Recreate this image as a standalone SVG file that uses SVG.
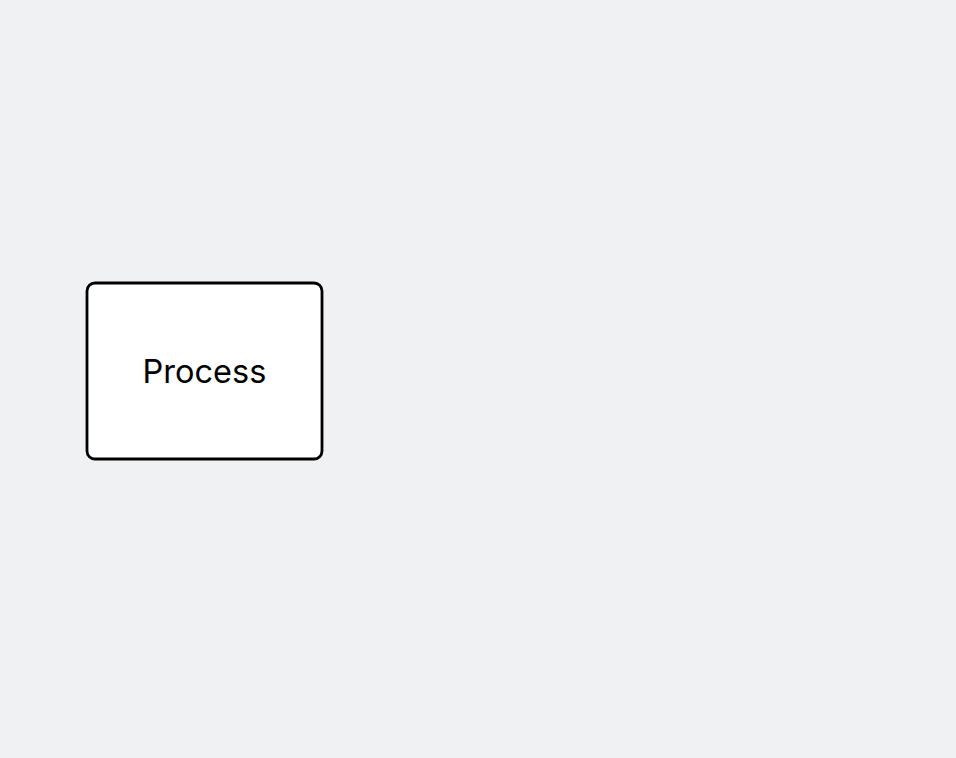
<svg xmlns="http://www.w3.org/2000/svg" width="956" height="758" viewBox="0 0 956 758">
<style>
.node rect{fill:#ffffff;stroke:#000000;stroke-width:2.8}
.node text{font-family:Inter,"Noto Sans","Liberation Sans",sans-serif;font-size:32.5px;fill:#000000;text-anchor:middle}
</style>
<rect x="0" y="0" width="956" height="758" fill="#f0f1f3"/>
<g id="connectors"></g>
<g id="node-process" class="node">
<rect x="87" y="283" width="235" height="176" rx="8" ry="8"/>
<text x="204.5" y="383">Process</text>
</g>
</svg>
